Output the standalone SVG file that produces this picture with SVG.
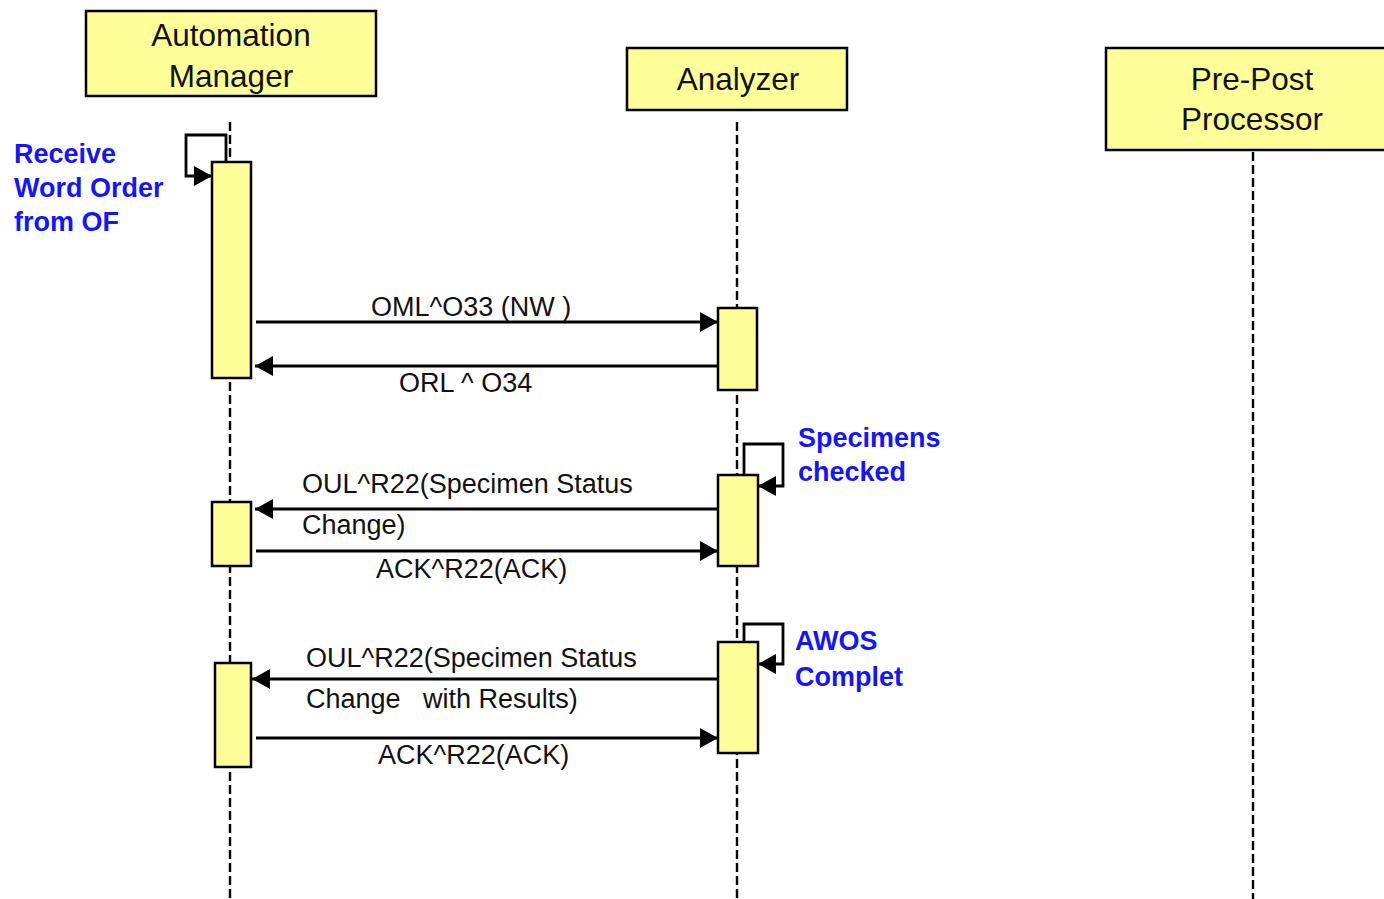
<svg xmlns="http://www.w3.org/2000/svg" width="1384" height="899" viewBox="0 0 1384 899">
<style>
.box{fill:#ffff99;stroke:#000;stroke-width:2.5}
.act{fill:#ffff99;stroke:#000;stroke-width:2.5}
.life{stroke:#000;stroke-width:2.4;stroke-dasharray:9,4;fill:none}
.msg{stroke:#000;stroke-width:2.8;fill:none}
.hdr{font-family:"Liberation Sans",Arial,sans-serif;font-size:31.5px;fill:#111;text-anchor:middle}
.lbl{font-family:"Liberation Sans",Arial,sans-serif;font-size:27px;fill:#111}
.note{font-family:"Liberation Sans",Arial,sans-serif;font-size:27px;font-weight:bold;fill:#1414ff}
</style>
<defs>
<marker id="ah" markerWidth="19" markerHeight="20" refX="18" refY="10" orient="auto" markerUnits="userSpaceOnUse">
<path d="M0,0 L18,10 L0,20 Z" fill="#000"/>
</marker>
</defs>
<rect width="1384" height="899" fill="#fff"/>

<g id="lifelines">
<line class="life" x1="230" y1="122" x2="230" y2="899"/>
<line class="life" x1="737" y1="122" x2="737" y2="899"/>
<line class="life" x1="1253" y1="152" x2="1253" y2="899"/>
</g>

<g id="automation-manager">
<rect class="box" x="86" y="11" width="290" height="85"/>
<text class="hdr" x="231" y="46">Automation</text>
<text class="hdr" x="231" y="87">Manager</text>
</g>
<g id="analyzer">
<rect class="box" x="627" y="48" width="220" height="62"/>
<text class="hdr" x="738" y="90">Analyzer</text>
</g>
<g id="pre-post-processor">
<rect class="box" x="1106" y="48" width="290" height="102"/>
<text class="hdr" x="1252" y="90">Pre-Post</text>
<text class="hdr" x="1252" y="130">Processor</text>
</g>

<g id="activations">
<rect class="act" x="212" y="162" width="39" height="216"/>
<rect class="act" x="718" y="308" width="39" height="82"/>
<rect class="act" x="718" y="475" width="40" height="91"/>
<rect class="act" x="212" y="502" width="39" height="64"/>
<rect class="act" x="718" y="642" width="40" height="111"/>
<rect class="act" x="215" y="663" width="36" height="104"/>
</g>

<g id="connectors">
<polyline class="msg" points="226,162 226,135 186,135 186,176 212,176" marker-end="url(#ah)"/>
<line class="msg" x1="256" y1="322" x2="718" y2="322" marker-end="url(#ah)"/>
<line class="msg" x1="718" y1="366" x2="255" y2="366" marker-end="url(#ah)"/>
<polyline class="msg" points="744,475 744,444 783,444 783,486 758,486" marker-end="url(#ah)"/>
<line class="msg" x1="718" y1="509" x2="255" y2="509" marker-end="url(#ah)"/>
<line class="msg" x1="256" y1="551" x2="718" y2="551" marker-end="url(#ah)"/>
<polyline class="msg" points="744,642 744,624 783,624 783,664 758,664" marker-end="url(#ah)"/>
<line class="msg" x1="718" y1="679" x2="252" y2="679" marker-end="url(#ah)"/>
<line class="msg" x1="256" y1="738" x2="718" y2="738" marker-end="url(#ah)"/>
</g>

<g id="labels">
<text class="lbl" x="371" y="316">OML^O33 (NW )</text>
<text class="lbl" x="399" y="392">ORL ^ O34</text>
<text class="lbl" x="302" y="493">OUL^R22(Specimen Status</text>
<text class="lbl" x="302" y="534">Change)</text>
<text class="lbl" x="376" y="578">ACK^R22(ACK)</text>
<text class="lbl" x="306" y="667">OUL^R22(Specimen Status</text>
<text class="lbl" x="306" y="708" xml:space="preserve">Change   with Results)</text>
<text class="lbl" x="378" y="764">ACK^R22(ACK)</text>
</g>

<g id="notes">
<text class="note" x="14" y="163">Receive</text>
<text class="note" x="14" y="197">Word Order</text>
<text class="note" x="14" y="231">from OF</text>
<text class="note" x="798" y="447">Specimens</text>
<text class="note" x="798" y="481">checked</text>
<text class="note" x="795" y="650">AWOS</text>
<text class="note" x="795" y="686">Complet</text>
</g>
</svg>
